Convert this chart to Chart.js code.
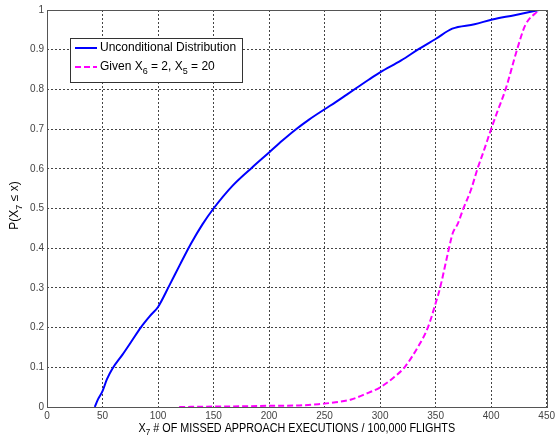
<!DOCTYPE html>
<html>
<head>
<meta charset="utf-8">
<script src="https://cdn.jsdelivr.net/npm/chart.js@4.4.1/dist/chart.umd.min.js"></script>
<style>
  html, body { margin: 0; padding: 0; background: #fff; }
  #wrap { width: 558px; height: 440px; }
</style>
</head>
<body>
<div id="wrap"><canvas id="cdfChart" width="558" height="440"></canvas></div>
<script>
// tick values and labels
const xTicks = [0, 50, 100, 150, 200, 250, 300, 350, 400, 450];
const yTicks = [0, 0.1, 0.2, 0.3, 0.4, 0.5, 0.6, 0.7, 0.8, 0.9, 1];
const yTickLabels = ['0', '0.1', '0.2', '0.3', '0.4', '0.5', '0.6', '0.7', '0.8', '0.9', '1'];

// unconditional distribution
const uncondX = [43, 46, 50, 54, 59, 68, 76, 84.4, 93, 100, 110, 120, 130, 140, 150,
  167, 185, 200, 212, 224, 236, 250, 260, 270, 280, 290, 300, 319, 335, 350, 365, 385, 401, 421, 443];
const uncondY = [0, 0.02, 0.04, 0.07, 0.097, 0.132, 0.165, 0.2, 0.23, 0.252, 0.305, 0.36, 0.413, 0.46, 0.5,
  0.557, 0.604, 0.641, 0.671, 0.699, 0.724, 0.75, 0.768, 0.787, 0.806, 0.825, 0.843, 0.873, 0.902, 0.927, 0.953, 0.964, 0.976, 0.987, 1.0];

// conditional distribution
const givenX = [119, 150, 182, 200, 227, 244.5, 260, 274, 287, 300.3, 313, 322, 334, 343, 350.4, 354,
  361, 365.3, 370, 375, 381.7, 387.7, 393.6, 400.2, 405.6, 413, 423.3, 430.8, 443];
const givenY = [0, 0.001, 0.002, 0.003, 0.004, 0.007, 0.012, 0.019, 0.033, 0.05, 0.076, 0.1, 0.151, 0.2, 0.265, 0.3,
  0.387, 0.437, 0.462, 0.5, 0.546, 0.6, 0.647, 0.702, 0.744, 0.8, 0.9, 0.962, 1.0];

const xTitle = 'X_7 # OF MISSED APPROACH EXECUTIONS / 100,000 FLIGHTS';
const yTitle = 'P(X_7 \u2264 x)';

const FONT = "'Liberation Sans', Arial, Helvetica, sans-serif";

function toPoints(xs, ys) {
  return xs.map((x, i) => ({ x: x, y: ys[i] }));
}

// split "X_7" style text into normal / subscript pieces
function parts(text) {
  const out = [];
  let buf = '';
  for (let i = 0; i < text.length; i++) {
    if (text[i] === '_' && i + 1 < text.length) {
      if (buf) out.push({ t: buf, sub: false });
      buf = '';
      out.push({ t: text[i + 1], sub: true });
      i++;
    } else {
      buf += text[i];
    }
  }
  if (buf) out.push({ t: buf, sub: false });
  return out;
}

function richWidth(ctx, text, size) {
  let w = 0;
  parts(text).forEach(p => {
    ctx.font = (p.sub ? Math.round(size * 0.75) : size) + 'px ' + FONT;
    w += ctx.measureText(p.t).width;
  });
  return w;
}

function drawRich(ctx, text, x, y, size) {
  ctx.textBaseline = 'middle';
  ctx.textAlign = 'left';
  parts(text).forEach(p => {
    ctx.font = (p.sub ? Math.round(size * 0.75) : size) + 'px ' + FONT;
    ctx.fillText(p.t, x, p.sub ? y + size * 0.35 : y);
    x += ctx.measureText(p.t).width;
  });
}

const matlabDecor = {
  id: 'matlabDecor',
  afterDraw(chart) {
    const ctx = chart.ctx;
    const a = chart.chartArea;
    ctx.save();

    // axes box
    ctx.strokeStyle = '#555';
    ctx.lineWidth = 1;
    ctx.setLineDash([]);
    ctx.strokeRect(Math.round(a.left) + 0.5, Math.round(a.top) + 0.5,
      Math.round(a.right - a.left), Math.round(a.bottom - a.top));

    // axis titles
    ctx.fillStyle = '#000';
    const ts = 12;
    const xw = richWidth(ctx, xTitle, ts);
    ctx.save();
    ctx.translate((a.left + a.right) / 2, a.bottom + 21.5);
    ctx.scale(0.9, 1);
    drawRich(ctx, xTitle, -xw / 2, 0, ts);
    ctx.restore();

    const yw = richWidth(ctx, yTitle, ts);
    ctx.save();
    ctx.translate(15, (a.top + a.bottom) / 2 - 3);
    ctx.rotate(-Math.PI / 2);
    drawRich(ctx, yTitle, -yw / 2, 0, ts);
    ctx.restore();

    // legend box
    const lx = 70.5, ly = 38.5, lw = 172, lh = 44;
    ctx.fillStyle = '#fff';
    ctx.fillRect(lx, ly, lw, lh);
    ctx.strokeStyle = '#333';
    ctx.strokeRect(lx, ly, lw, lh);
    chart.data.datasets.forEach((ds, i) => {
      const ry = 48 + i * 19;
      ctx.strokeStyle = ds.borderColor;
      ctx.lineWidth = ds.borderWidth;
      ctx.setLineDash(ds.borderDash || []);
      ctx.beginPath();
      ctx.moveTo(75, ry);
      ctx.lineTo(97, ry);
      ctx.stroke();
      ctx.setLineDash([]);
      ctx.fillStyle = '#000';
      drawRich(ctx, ds.label, 100, ry, 12);
    });
    ctx.restore();
  }
};

const ctx = document.getElementById('cdfChart').getContext('2d');
const cdfChart = new Chart(ctx, {
  type: 'line',
  data: {
    datasets: [{
      label: 'Unconditional Distribution',
      data: toPoints(uncondX, uncondY),
      borderColor: '#0000ff',
      borderWidth: 2,
      pointRadius: 0,
      cubicInterpolationMode: 'monotone',
      fill: false
    }, {
      label: 'Given X_6 = 2, X_5 = 20',
      data: toPoints(givenX, givenY),
      borderColor: '#ff00ff',
      borderWidth: 2,
      borderDash: [6, 3],
      pointRadius: 0,
      cubicInterpolationMode: 'monotone',
      fill: false
    }]
  },
  options: {
    responsive: false,
    animation: false,
    layout: { padding: { top: 10, right: 8, left: 0, bottom: 0 } },
    plugins: { legend: { display: false }, tooltip: { enabled: false } },
    scales: {
      x: {
        type: 'linear',
        min: 0,
        max: 450,
        afterBuildTicks: s => { s.ticks = xTicks.map(v => ({ value: v })); },
        afterFit: s => { s.height = 33; },
        grid: { color: '#444', lineWidth: 1, drawTicks: false },
        border: { display: false, dash: [2, 2] },
        ticks: { padding: 3, color: '#444', font: { family: FONT, size: 10 }, maxRotation: 0 }
      },
      y: {
        type: 'linear',
        min: 0,
        max: 1,
        afterBuildTicks: s => { s.ticks = yTicks.map(v => ({ value: v })); },
        afterFit: s => { s.width = 47; },
        grid: { color: '#444', lineWidth: 1, drawTicks: false },
        border: { display: false, dash: [2, 2] },
        ticks: {
          padding: 3, color: '#444', font: { family: FONT, size: 10 },
          callback: (v, i) => yTickLabels[i]
        }
      }
    }
  },
  plugins: [matlabDecor]
});
</script>
</body>
</html>
